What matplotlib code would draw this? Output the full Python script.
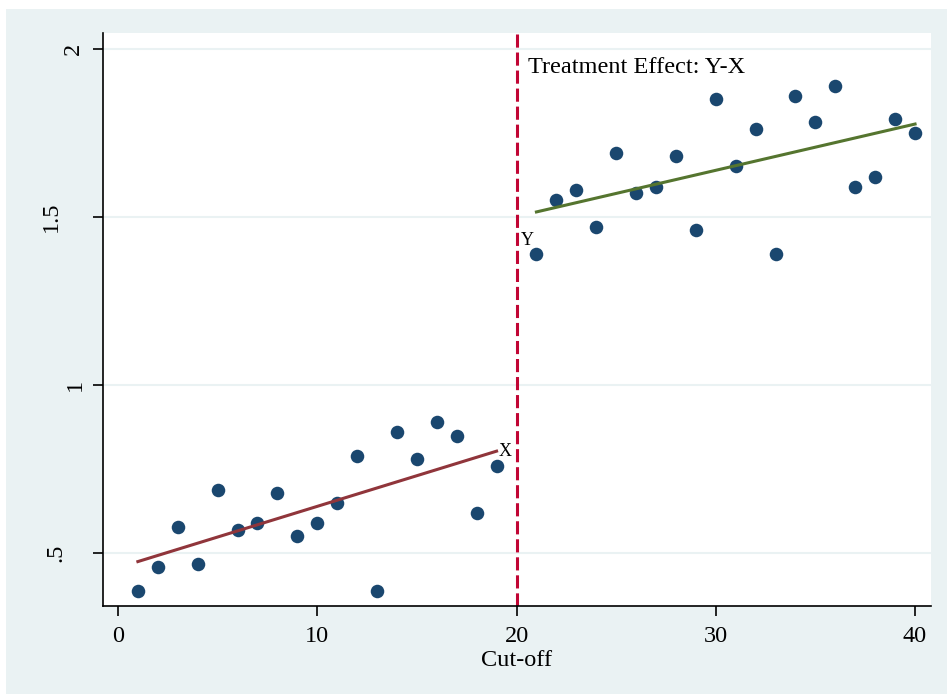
import numpy as np
import matplotlib
matplotlib.use("Agg")
import matplotlib.pyplot as plt
from matplotlib.patches import Rectangle
from matplotlib.transforms import blended_transform_factory

# Data
x_left = list(range(1, 20))
y_left = [0.387, 0.458, 0.577, 0.467, 0.688, 0.568, 0.589, 0.679, 0.551, 0.589,
          0.649, 0.789, 0.387, 0.860, 0.780, 0.890, 0.848, 0.619, 0.759]
x_right = list(range(21, 41))
y_right = [1.390, 1.551, 1.580, 1.470, 1.690, 1.571, 1.589, 1.682, 1.461, 1.851,
           1.652, 1.762, 1.390, 1.860, 1.783, 1.890, 1.589, 1.619, 1.792, 1.750]
cutoff = 20
xticks = [0, 10, 20, 30, 40]
yticks = [0.5, 1.0, 1.5, 2.0]
ytick_labels = [".5", "1", "1.5", "2"]

W, H = 947, 694
fig = plt.figure(figsize=(W / 100, H / 100), dpi=100)
fig.patch.set_facecolor("white")
bg = "#EAF2F3"
fig.patches.append(Rectangle((6 / W, 0), 1 - 6 / W, 1 - 9 / H, transform=fig.transFigure,
                             facecolor=bg, edgecolor="none", zorder=-10))

left, right, top, bottom = 103, 931, 33, 606
ax = fig.add_axes([left / W, 1 - bottom / H, (right - left) / W, (bottom - top) / H])
ax.set_facecolor("white")

serif = "Liberation Serif"
fs = 17.5

ax.set_xlim(-0.75, 40.8)
ax.set_ylim(0.342, 2.048)

for yt in yticks:
    ax.axhline(yt, color="#EAF2F3", lw=1.5, zorder=0)

ax.scatter(x_left, y_left, s=95, color="#1A476F", zorder=3, linewidths=0)
ax.scatter(x_right, y_right, s=95, color="#1A476F", zorder=3, linewidths=0)

cl = np.polyfit(x_left, y_left, 1)
cr = np.polyfit(x_right, y_right, 1)
xl = np.array([x_left[0], x_left[-1]])
xr = np.array([x_right[0], x_right[-1]])
ax.plot(xl, np.polyval(cl, xl), color="#90353B", lw=2.2, zorder=4)
ax.plot(xr, np.polyval(cr, xr), color="#55752F", lw=2.2, zorder=4)

ax.axvline(cutoff, color="#C10534", lw=2.2, linestyle=(0, (4.3, 1.6)), zorder=2)

ax.text(x_left[-1] + 0.1, np.polyval(cl, x_left[-1]), "X", fontfamily=serif, fontsize=13,
        ha="left", va="center")
ax.text(20.2, 1.43, "Y", fontfamily=serif, fontsize=13, ha="left", va="center")
ax.text(20.6, 1.945, "Treatment Effect: Y-X", fontfamily=serif, fontsize=fs,
        ha="left", va="center")

for s in ["top", "right"]:
    ax.spines[s].set_visible(False)
for s in ["left", "bottom"]:
    ax.spines[s].set_color("black")
    ax.spines[s].set_linewidth(1.2)

ax.set_xticks(xticks)
ax.set_xticklabels([str(t) for t in xticks], fontfamily=serif, fontsize=fs)
ax.set_yticks(yticks)
ax.set_yticklabels([])
ax.tick_params(axis="both", length=7, width=1.2, color="black")
ax.tick_params(axis="x", pad=7.3)
ax.set_xlabel("Cut-off", fontfamily=serif, fontsize=fs, labelpad=2)

# rotated y tick labels, placed as in the reference
label_xpix = [56, 75, 51, 73.5]
tr = blended_transform_factory(fig.transFigure, ax.transData)
for yt, lab, px in zip(yticks, ytick_labels, label_xpix):
    ax.text(px / W, yt, lab, transform=tr, fontfamily=serif, fontsize=fs,
            rotation=90, ha="center", va="center", rotation_mode="anchor")

fig.savefig("out.png", dpi=100, facecolor=fig.get_facecolor())
